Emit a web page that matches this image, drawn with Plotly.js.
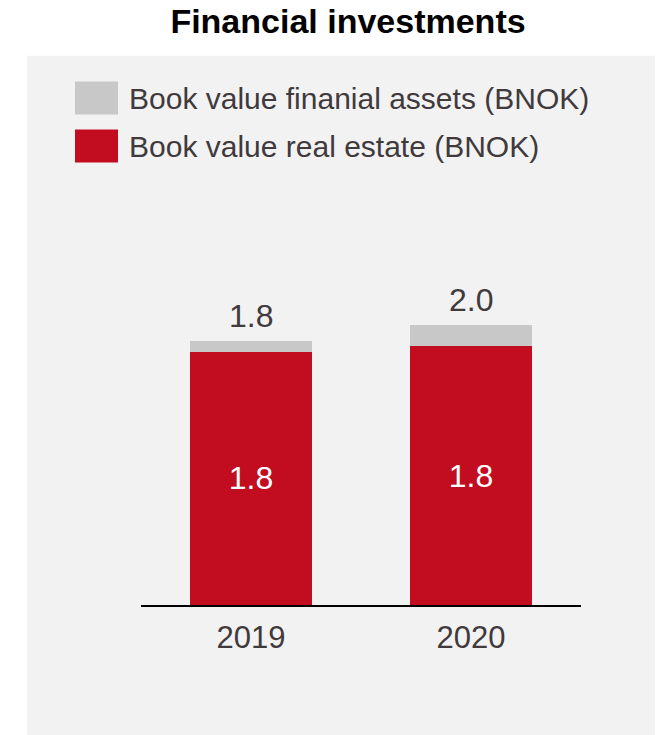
<!DOCTYPE html>
<html>
<head>
<meta charset="utf-8">
<script src="https://cdn.plot.ly/plotly-3.0.1.min.js"></script>
<style>
	body { margin: 0; background: #ffffff; }
	#chart { width: 661px; height: 735px; }
</style>
</head>
<body>
<div id="chart"></div>
<script>
var years = ["2019", "2020"];
var realEstate = [1.8, 1.84];
var financialAssets = [0.08, 0.15];
var totalLabels = ["1.8", "2.0"];
var seriesNames = ["Book value finanial assets (BNOK)", "Book value real estate (BNOK)"];

var red = "#c20c1f";
var grey = "#c8c8c8";
var textColor = "#403a3d";
var font = "Liberation Sans, Arial, sans-serif";

var trace1 = {
	x: years,
	y: realEstate,
	name: seriesNames[1],
	type: "bar",
	marker: { color: red },
	texttemplate: "%{y:.1f}",
	textposition: "inside",
	insidetextanchor: "middle",
	textfont: { family: font, size: 32, color: "#ffffff" },
	hoverinfo: "none",
};

var trace2 = {
	x: years,
	y: financialAssets,
	name: seriesNames[0],
	type: "bar",
	marker: { color: grey },
	hoverinfo: "none",
};

// labels above the stacks
var annotations = years.map(function (yr, i) {
	return {
		x: yr,
		y: realEstate[i] + financialAssets[i],
		text: totalLabels[i],
		showarrow: false,
		yanchor: "bottom",
		yshift: 5,
		font: { family: font, size: 32, color: textColor },
	};
});

// hand-made legend (big square swatches)
var swatchColors = [grey, red];
var rowShift = [102, 54];
var shapes = [
	{
		type: "rect",
		xref: "paper",
		yref: "paper",
		x0: -0.259,
		x1: 1.168,
		y0: -0.321,
		y1: 1.356,
		fillcolor: "#f2f2f2",
		line: { width: 0 },
		layer: "below",
	},
];
seriesNames.forEach(function (name, i) {
	shapes.push({
		type: "rect",
		xref: "paper",
		yref: "paper",
		xsizemode: "pixel",
		ysizemode: "pixel",
		xanchor: 0,
		yanchor: 1,
		x0: -66,
		x1: -23,
		y0: rowShift[i] - 16.5,
		y1: rowShift[i] + 16.5,
		fillcolor: swatchColors[i],
		line: { width: 0 },
	});
	annotations.push({
		xref: "paper",
		yref: "paper",
		x: 0,
		y: 1,
		xshift: -14,
		yshift: rowShift[i],
		xanchor: "left",
		yanchor: "middle",
		text: name,
		showarrow: false,
		font: { family: font, size: 30, color: textColor },
	});
});

var layout = {
	width: 661,
	height: 735,
	margin: { l: 141, r: 80, t: 200, b: 130 },
	paper_bgcolor: "#ffffff",
	plot_bgcolor: "rgba(0,0,0,0)",
	barmode: "stack",
	bargap: 0.445,
	showlegend: false,
	title: {
		text: "<b>Financial investments</b>",
		xref: "container",
		yref: "container",
		x: 0.5265,
		xanchor: "center",
		y: 0.971,
		yanchor: "middle",
		font: { family: font, size: 34, color: "#000000" },
	},
	xaxis: {
		showline: true,
		linecolor: "#000000",
		linewidth: 2,
		ticks: "",
		ticklabelstandoff: 4,
		showgrid: false,
		tickfont: { family: font, size: 31, color: textColor },
	},
	yaxis: {
		range: [0, 2.88],
		visible: false,
		showgrid: false,
		zeroline: false,
	},
	shapes: shapes,
	annotations: annotations,
};

var config = {
	responsive: false,
	displayModeBar: false,
	staticPlot: true,
};

Plotly.newPlot("chart", [trace1, trace2], layout, config);
</script>
</body>
</html>
